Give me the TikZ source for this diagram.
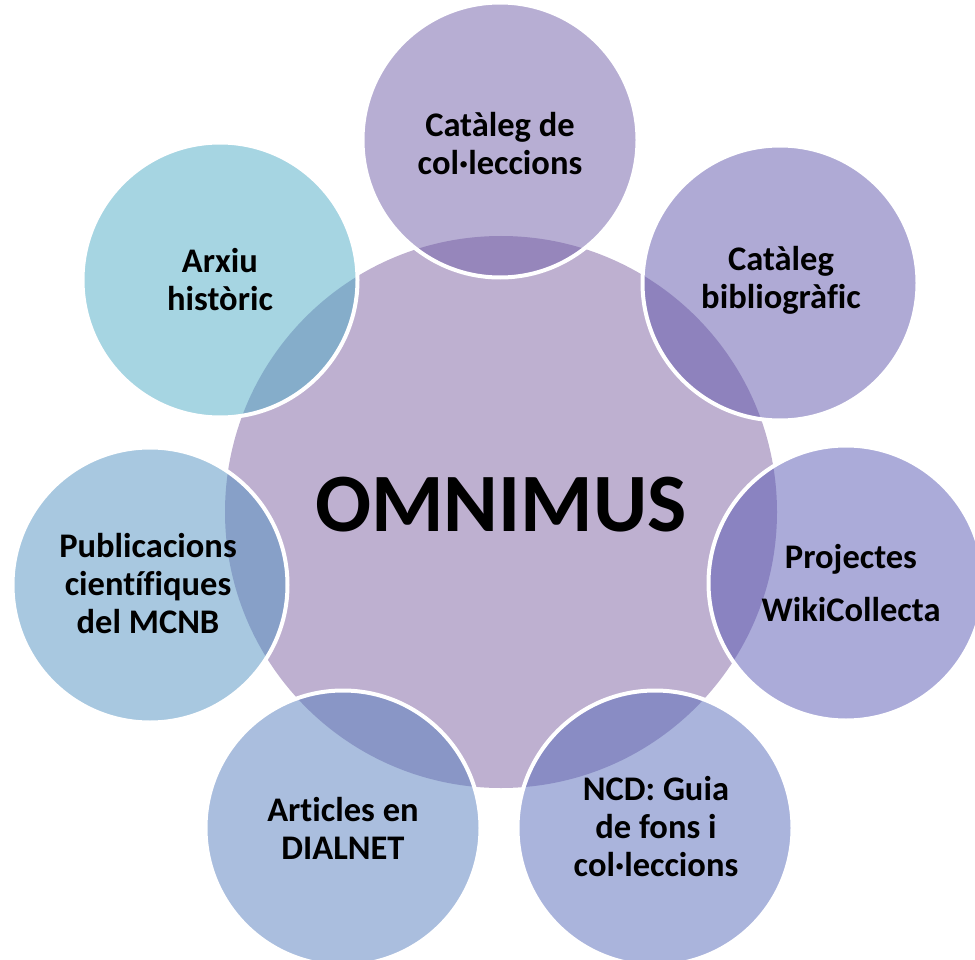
\documentclass[tikz,border=0pt]{standalone}
\usepackage{fontspec}
\setmainfont{Carlito}[Ligatures=CommonOff]
\begin{document}
\begin{tikzpicture}[x=1pt,y=-1pt,
  outer/.style={circle,minimum size=275pt,inner sep=0pt,draw=white,line width=4pt,fill opacity=0.5,draw opacity=1,text opacity=1},
  lbl/.style={align=center,font=\fontsize{34.5}{38}\selectfont\bfseries},
  hub/.style={circle,minimum size=552pt,inner sep=0pt,fill=hubc}]
\definecolor{hubc}{RGB}{190,176,208}
\definecolor{c1}{RGB}{111,93,167}
\definecolor{c2}{RGB}{95,85,171}
\definecolor{c3}{RGB}{87,87,179}
\definecolor{c4}{RGB}{85,105,185}
\definecolor{c5}{RGB}{85,125,189}
\definecolor{c6}{RGB}{81,145,193}
\definecolor{c7}{RGB}{77,171,197}
\useasboundingbox (0,0) rectangle (975,960);
\node[hub] (hub) at (501,512) {};
\node (omni) at (501,505) {\fontsize{83}{90}\selectfont\bfseries OMNIMUS};
\node[outer,fill=c1] (n1) at (500,140) {};
\node[outer,fill=c2] (n2) at (780,283) {};
\node[outer,fill=c3] (n3) at (846,583) {};
\node[outer,fill=c4] (n4) at (655,828) {};
\node[outer,fill=c5] (n5) at (343,828) {};
\node[outer,fill=c6] (n6) at (150,585) {};
\node[outer,fill=c7] (n7) at (220,280) {};
\node[lbl] (t1) at (500,144) {Catàleg de\\col·leccions};
\node[lbl] (t2) at (781,280) {Catàleg\\bibliogràfic};
\node[lbl,font=\fontsize{34.5}{53}\selectfont\bfseries] (t3) at (851,583) {Projectes\\WikiCollecta};
\node[lbl] (t4) at (656,827) {NCD: Guia\\de fons i\\col·leccions};
\node[lbl] (t5) at (343,828) {Articles en\\DIALNET};
\node[lbl] (t6) at (148,584) {Publicacions\\científiques\\del MCNB};
\node[lbl] (t7) at (220,280) {Arxiu\\històric};
\end{tikzpicture}
\end{document}
